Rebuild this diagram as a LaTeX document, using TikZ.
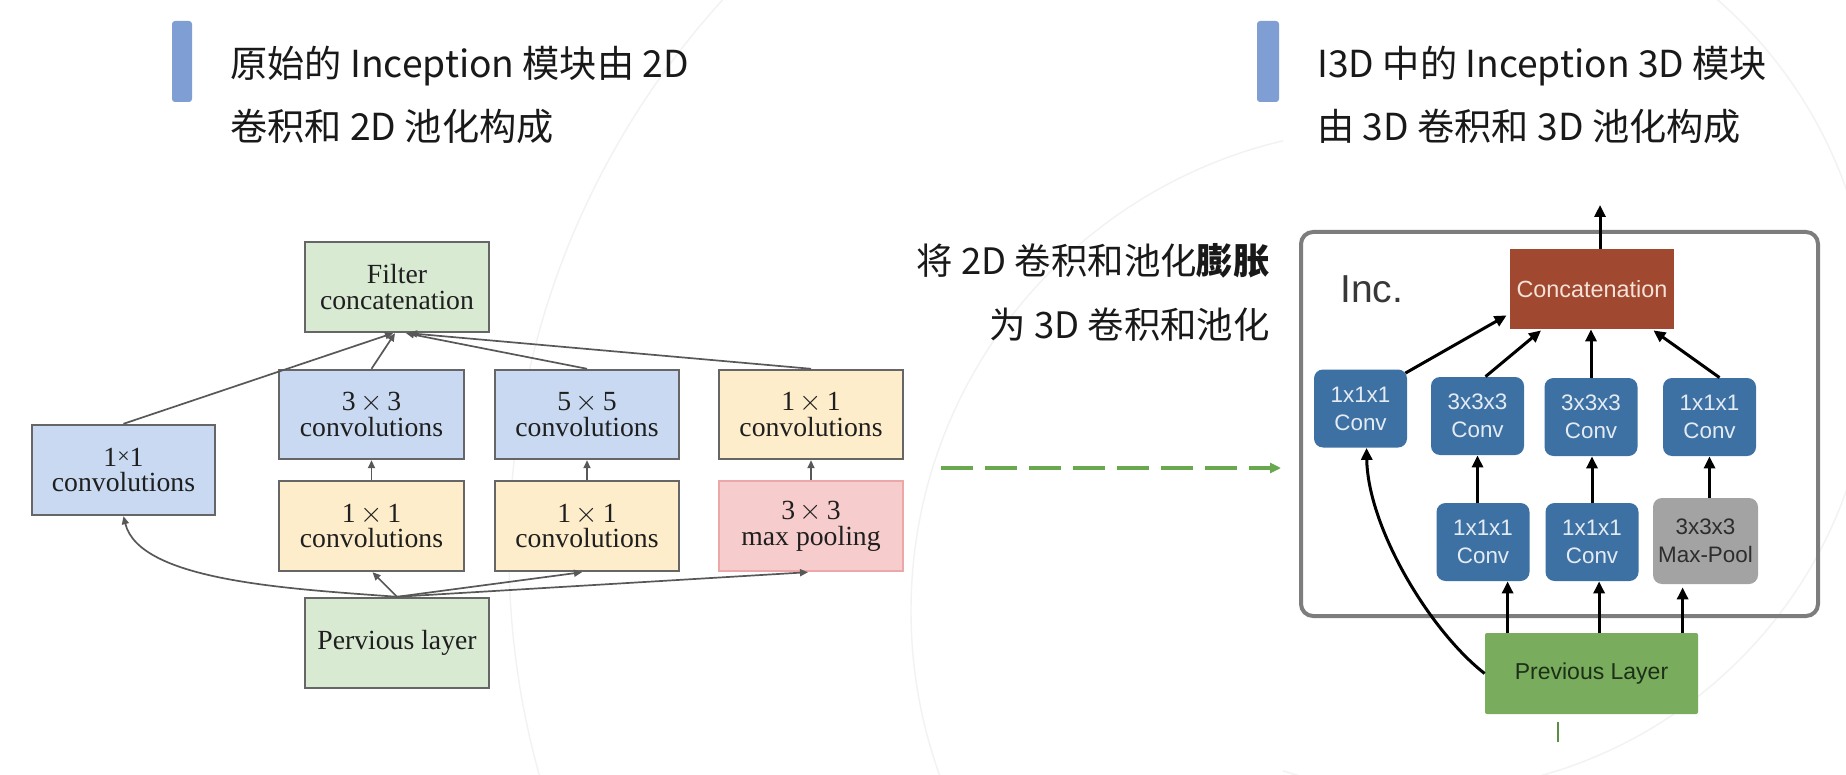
\documentclass[tikz,border=0pt]{standalone}
\usepackage{fontspec}
\setmainfont{Liberation Serif}
\newfontfamily\cjkfont{Noto Sans CJK SC}
\newfontfamily\arialfont{Liberation Sans}
\usetikzlibrary{arrows.meta,calc}

\definecolor{barblue}{RGB}{127,158,211}
\definecolor{lblue}{RGB}{200,217,241}
\definecolor{lyellow}{RGB}{253,237,203}
\definecolor{lpink}{RGB}{246,204,204}
\definecolor{pinkline}{RGB}{236,168,168}
\definecolor{lgreen}{RGB}{217,234,211}
\definecolor{boxline}{RGB}{102,102,102}
\definecolor{arrowgray}{RGB}{88,88,88}
\definecolor{convblue}{RGB}{61,113,163}
\definecolor{convtext}{RGB}{228,235,243}
\definecolor{poolgray}{RGB}{163,163,163}
\definecolor{pooltext}{RGB}{45,45,45}
\definecolor{concatred}{RGB}{160,72,48}
\definecolor{concattext}{RGB}{246,226,215}
\definecolor{prevgreen}{RGB}{121,172,92}
\definecolor{prevtext}{RGB}{28,48,24}
\definecolor{framegray}{RGB}{125,125,125}
\definecolor{dashgreen}{RGB}{106,168,79}
\definecolor{titletext}{RGB}{25,25,25}
\definecolor{arcgray}{RGB}{242,242,242}

\tikzset{
  title/.style={font=\cjkfont\fontsize{18.6}{18.6}\selectfont, text=titletext, inner sep=0pt},
  midtitle/.style={font=\cjkfont\fontsize{18.2}{18.2}\selectfont, text=titletext, inner sep=0pt},
  oldbox/.style={draw=boxline, line width=1.2pt, inner sep=0pt, align=center,
    font=\fontsize{13.85}{12.9}\selectfont, text=black!88},
  oldarrow/.style={draw=arrowgray, line width=0.85pt, -{Triangle[length=4pt,width=3.5pt]}},
  newbox/.style={rounded corners=4.5pt, inner sep=0pt, align=center,
    font=\arialfont\fontsize{11.2}{14}\selectfont},
  convbox/.style={newbox, fill=convblue, text=convtext, minimum width=46.5pt, minimum height=39pt},
  newarrow/.style={draw=black, line width=1.5pt, -{Triangle[length=6pt,width=5.5pt]}}
}

\begin{document}
\begin{tikzpicture}[x=0.5pt, y=-0.5pt]
  \useasboundingbox (0,0) rectangle (1846,775);
  \fill[white] (0,0) rectangle (1846,775);

  % faint background arcs of the slide
  \begin{scope}
    \clip (0,0) rectangle (1283,775);
    \draw[arcgray, line width=0.7pt] (1332,553) circle[radius=823];
    \draw[arcgray, line width=0.7pt] (1394,611) circle[radius=483];
  \end{scope}
  \begin{scope}
    \clip (1283,0) rectangle (1846,775);
    \draw[arcgray, line width=0.7pt] (1420,340) circle[radius=452];
  \end{scope}

  % heading bars and headings
  \fill[barblue, rounded corners=1.5pt] (172,21) rectangle (192,102);
  \fill[barblue, rounded corners=1.5pt] (1257,21) rectangle (1279,102);
  \node[title, anchor=base west] (t1a) at (230,78) {原始的 Inception 模块由 2D};
  \node[title, anchor=base west] (t1b) at (230,141) {卷积和 2D 池化构成};
  \node[title, anchor=base west] (t2a) at (1317,78) {I3D 中的 Inception 3D 模块};
  \node[title, anchor=base west] (t2b) at (1317,141) {由 3D 卷积和 3D 池化构成};
  \node[midtitle, anchor=base east] (m1) at (1270,274) {将 2D 卷积和池化{\bfseries 膨胀}};
  \node[midtitle, anchor=base east] (m2) at (1270,338) {为 3D 卷积和池化};

  % original 2D Inception module
  \node[oldbox, fill=lgreen, minimum width=92pt, minimum height=45pt] (fc) at (397,287) {Filter\\concatenation};
  \node[oldbox, fill=lblue, minimum width=92.5pt, minimum height=44.5pt] (c3) at (371.5,414.5) {3\,$\times$\,3\\convolutions};
  \node[oldbox, fill=lblue, minimum width=92pt, minimum height=44.5pt] (c5) at (587,414.5) {5\,$\times$\,5\\convolutions};
  \node[oldbox, fill=lyellow, minimum width=92pt, minimum height=44.5pt] (c1b) at (811,414.5) {1\,$\times$\,1\\convolutions};
  \node[oldbox, fill=lblue, minimum width=91.5pt, minimum height=45pt] (c1a) at (123.5,470) {1\raisebox{1.2pt}{\fontsize{11}{11}\selectfont×}1\\convolutions};
  \node[oldbox, fill=lyellow, minimum width=92.5pt, minimum height=45pt] (r3) at (371.5,526) {1\,$\times$\,1\\convolutions};
  \node[oldbox, fill=lyellow, minimum width=92pt, minimum height=45pt] (r5) at (587,526) {1\,$\times$\,1\\convolutions};
  \node[oldbox, fill=lpink, draw=pinkline, minimum width=92pt, minimum height=45pt] (mp) at (811,526) {3\,$\times$\,3\\max pooling};
  \node[oldbox, fill=lgreen, minimum width=92pt, minimum height=45pt] (pl) at (397,643) {Pervious layer};

  \draw[oldarrow] (c1a.north) -- ($(fc.south)+(-4,0)$);
  \draw[oldarrow] (c3.north) -- ($(fc.south)+(-2,0)$);
  \draw[oldarrow] (c5.north) -- ($(fc.south)+(9,0)$);
  \draw[oldarrow] (c1b.north) -- ($(fc.south)+(12,0)$);
  \draw[oldarrow] (r3.north) -- (c3.south);
  \draw[oldarrow] (r5.north) -- (c5.south);
  \draw[oldarrow] (mp.north) -- (c1b.south);
  \draw[oldarrow] (pl.north) -- ($(r3.south)+(1,0)$);
  \draw[oldarrow] (pl.north) -- ($(r5.south)+(-5,0)$);
  \draw[oldarrow] (pl.north) -- ($(mp.south)+(-3,0)$);
  \draw[oldarrow] (pl.north) .. controls +(-107,-8) and +(16,65) .. (c1a.south);

  % inflation arrow
  \coordinate (da) at (941,468);
  \coordinate (db) at (1281,468);
  \draw[dashgreen, line width=2pt, dash pattern=on 15.85pt off 6.15pt,
        -{Triangle[length=5.5pt,width=5pt]}] (da) -- (db);

  % Inception 3D module
  \node[draw=framegray, line width=2pt, rounded corners=6pt, minimum width=258.5pt,
        minimum height=192pt, inner sep=0pt] (frame) at (1559.5,424) {};
  \node[anchor=base west, inner sep=0pt, font=\arialfont\fontsize{19.5}{19.5}\selectfont,
        text=black!78] (inc) at (1340,302) {Inc.};
  \node[newbox, rounded corners=0pt, fill=concatred, text=concattext, minimum width=82pt,
        minimum height=40pt, font=\arialfont\fontsize{11.7}{14}\selectfont] (cc) at (1592,289) {Concatenation};
  \node[convbox] (B1) at (1360.5,408.5) {1x1x1\\Conv};
  \node[convbox] (B2) at (1477.5,416) {3x3x3\\Conv};
  \node[convbox] (B3) at (1591,417) {3x3x3\\Conv};
  \node[convbox] (B4) at (1709.5,417) {1x1x1\\Conv};
  \node[convbox] (B5) at (1483,542) {1x1x1\\Conv};
  \node[convbox] (B6) at (1592,542) {1x1x1\\Conv};
  \node[newbox, fill=poolgray, text=pooltext, minimum width=52.5pt, minimum height=43pt] (MP) at (1705.5,541) {3x3x3\\Max-Pool};
  \node[newbox, rounded corners=1pt, fill=prevgreen, text=prevtext, minimum width=106.5pt,
        minimum height=40.5pt, font=\arialfont\fontsize{11.5}{14}\selectfont] (PL) at (1591.5,673.5) {Previous Layer};

  \coordinate (out) at (1600,205);
  \draw[newarrow] (cc.north -| out) -- (out);
  \draw[newarrow] ($(B1.north east)+(-2,4)$) -- ($(cc.south west)+(-3,-14)$);
  \draw[newarrow] ($(B2.north)+(8,0)$) -- ($(cc.south)+(-51,1)$);
  \draw[newarrow] (B3.north) -- (B3.north |- cc.south);
  \draw[newarrow] ($(B4.north)+(10,0)$) -- ($(cc.south east)+(-21,1)$);
  \draw[newarrow] (B2.south |- B5.north) -- (B2.south);
  \draw[newarrow] (B6.north) -- (B6.north |- B3.south);
  \draw[newarrow] (B4.south |- MP.north) -- (B4.south);
  \coordinate (p1) at ($(PL.north west)+(23,0)$);
  \coordinate (p2) at ($(PL.north west)+(114.5,0)$);
  \coordinate (p3) at ($(PL.north west)+(198,0)$);
  \draw[newarrow] (p1) -- (p1 |- B5.south);
  \draw[newarrow] (p2) -- (p2 |- B6.south);
  \draw[newarrow] (p3) -- ($(p3 |- MP.south)+(0,3)$);
  \draw[newarrow] (PL.west) .. controls +(-55,-43) and +(1.5,80) .. ($(B1.south)+(6,0)$);

  \coordinate (tick) at (1558,742);
  \draw[dashgreen!85!black, line width=1.2pt] ($(PL.south -| tick)+(0,8)$) -- (tick);
\end{tikzpicture}
\end{document}
